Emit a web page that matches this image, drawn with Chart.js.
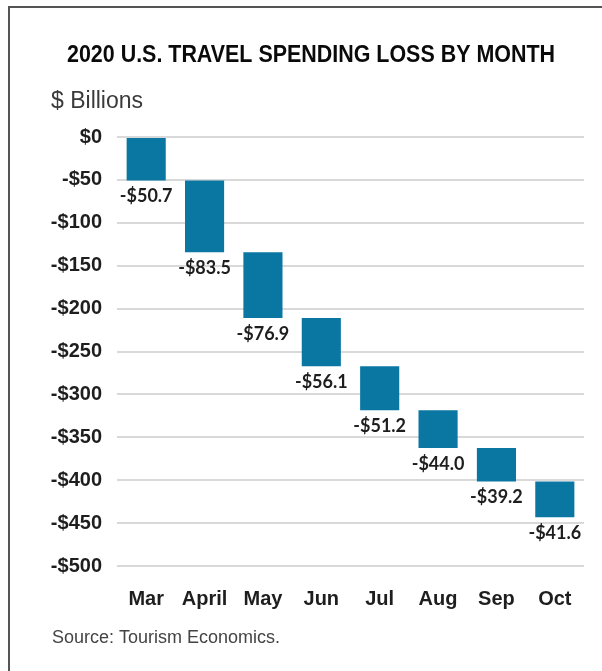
<!DOCTYPE html>
<html>
<head>
<meta charset="utf-8">
<title>2020 U.S. Travel Spending Loss by Month</title>
<script src="https://cdn.jsdelivr.net/npm/chart.js@4/dist/chart.umd.min.js"></script>
<style>
    html, body { margin: 0; padding: 0; background: #fff; }
    #wrap { position: relative; width: 602px; height: 671px; }
</style>
</head>
<body>
<div id="wrap"><canvas id="lossChart" width="602" height="671"></canvas></div>
<script>
// Monthly spending loss ($ billions), stacked as a waterfall
const months = ['Mar', 'April', 'May', 'Jun', 'Jul', 'Aug', 'Sep', 'Oct'];
const monthlyLoss = [-50.7, -83.5, -76.9, -56.1, -51.2, -44.0, -39.2, -41.6];
const yTicks = [0, -50, -100, -150, -200, -250, -300, -350, -400, -450, -500];

const titleText = '2020 U.S. TRAVEL SPENDING LOSS BY MONTH';
const unitText = '$ Billions';
const sourceText = 'Source: Tourism Economics.';

const barColor = '#0a77a3';
const inkColor = '#1e1e1e';

// each bar floats from the running total before it to the running total after it
let running = 0;
const floating = monthlyLoss.map(v => {
    const start = running;
    running += v;
    return [start, running];
});

function money(v) {
    return (v < 0 ? '-$' : '$') + Math.abs(v);
}

// frame, heading, unit caption and source note
const decorations = {
    id: 'decorations',
    beforeDraw(chart) {
        const ctx = chart.ctx;
        ctx.save();
        ctx.fillStyle = '#fff';
        ctx.fillRect(0, 0, chart.width, chart.height);
        ctx.strokeStyle = '#555';
        ctx.lineWidth = 2;
        ctx.beginPath();
        ctx.moveTo(9, chart.height);
        ctx.lineTo(9, 7);
        ctx.lineTo(chart.width, 7);
        ctx.stroke();
        ctx.restore();
    },
    afterDraw(chart) {
        const ctx = chart.ctx;
        ctx.save();
        ctx.textBaseline = 'middle';

        // heading squeezed into a condensed look, 488px wide
        ctx.fillStyle = '#0a0a0a';
        ctx.textAlign = 'center';
        ctx.font = 'bold 24px "Liberation Sans", Arial, sans-serif';
        const squeeze = 488 / ctx.measureText(titleText).width;
        ctx.save();
        ctx.translate(311, 55);
        ctx.scale(squeeze, 1);
        ctx.fillText(titleText, 0, 0);
        ctx.restore();

        ctx.textAlign = 'left';
        ctx.fillStyle = '#3a3a3a';
        ctx.font = '23px "Liberation Sans", Arial, sans-serif';
        ctx.fillText(unitText, 51, 102);

        ctx.fillStyle = '#444';
        ctx.font = '18px "Liberation Sans", Arial, sans-serif';
        ctx.fillText(sourceText, 52, 638);
        ctx.restore();
    }
};

// value labels under the bottom of each bar
const barLabels = {
    id: 'barLabels',
    afterDatasetsDraw(chart) {
        const ctx = chart.ctx;
        const meta = chart.getDatasetMeta(0);
        const yScale = chart.scales.y;
        ctx.save();
        ctx.font = 'bold 18px Lato, "Open Sans", sans-serif';
        ctx.fillStyle = inkColor;
        ctx.textAlign = 'center';
        ctx.textBaseline = 'middle';
        meta.data.forEach((bar, i) => {
            const bottom = yScale.getPixelForValue(floating[i][1]);
            ctx.fillText('-$' + Math.abs(monthlyLoss[i]).toFixed(1), bar.x, bottom + 16);
        });
        ctx.restore();
    }
};

const ctx = document.getElementById('lossChart').getContext('2d');
const lossChart = new Chart(ctx, {
    type: 'bar',
    data: {
        labels: months,
        datasets: [{
            data: floating,
            backgroundColor: barColor,
            borderWidth: 0,
            barPercentage: 0.67,
            categoryPercentage: 1
        }]
    },
    options: {
        responsive: false,
        animation: false,
        layout: {
            padding: { top: 137, right: 18, bottom: 0, left: 0 }
        },
        plugins: {
            legend: { display: false },
            title: { display: false },
            tooltip: { enabled: false }
        },
        scales: {
            y: {
                min: -500,
                max: 0,
                afterBuildTicks: axis => {
                    axis.ticks = yTicks.map(v => ({ value: v }));
                },
                afterFit: axis => { axis.width = 117; },
                border: { display: false },
                grid: {
                    color: '#d9d9d9',
                    lineWidth: 2,
                    drawTicks: false
                },
                ticks: {
                    padding: 15,
                    color: inkColor,
                    font: { family: "'Liberation Sans', Arial, sans-serif", size: 20, weight: 'bold' },
                    callback: v => money(v)
                }
            },
            x: {
                afterFit: axis => { axis.height = 105; },
                border: { display: false },
                grid: { display: false, drawTicks: false },
                ticks: {
                    padding: 21,
                    color: inkColor,
                    font: { family: "'Liberation Sans', Arial, sans-serif", size: 20, weight: 'bold' }
                }
            }
        }
    },
    plugins: [decorations, barLabels]
});
</script>
</body>
</html>
